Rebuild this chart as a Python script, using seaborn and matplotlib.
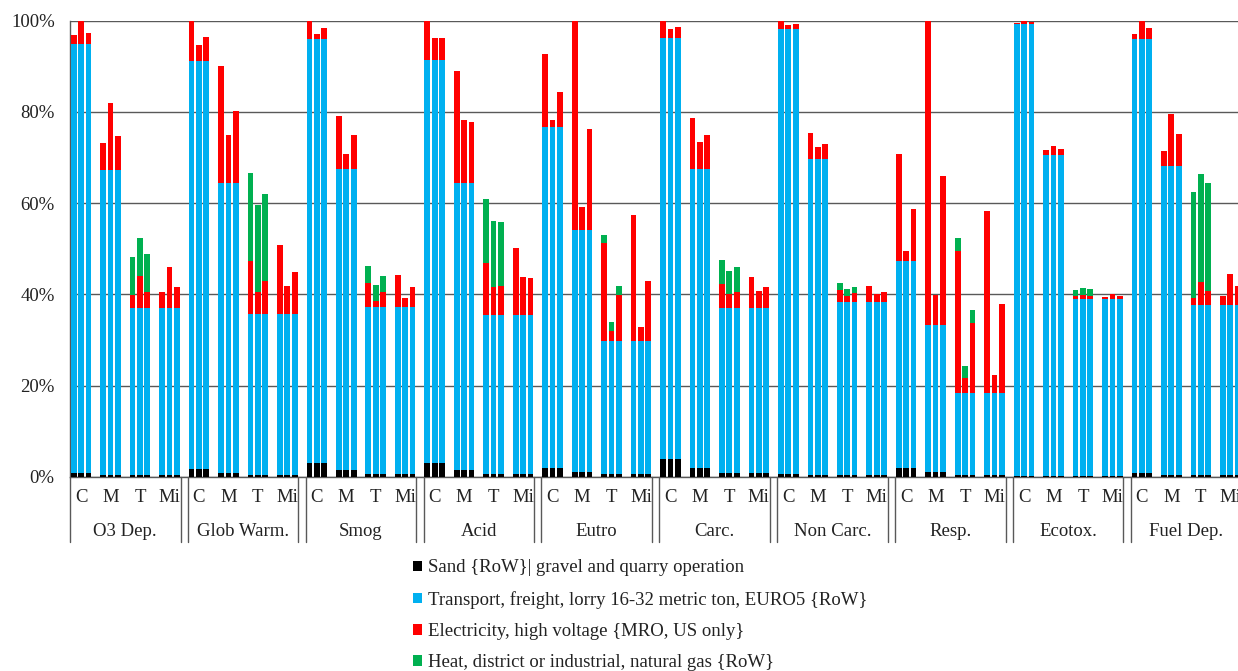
import numpy as np
import pandas as pd
import matplotlib
matplotlib.use("Agg")
import matplotlib.pyplot as plt
from matplotlib.patches import Patch
from matplotlib.ticker import FuncFormatter
import seaborn as sns

# Impact categories and the four scenarios in each
impacts = ["O3 Dep.", "Glob Warm.", "Smog", "Acid", "Eutro",
           "Carc.", "Non Carc.", "Resp.", "Ecotox.", "Fuel Dep."]
scenarios = ["C", "M", "T", "Mi"]

# Share (%) from sand/gravel, one value per scenario (same for its three bars)
sand = [
    [0.9, 0.45, 0.3, 0.3], [1.6, 0.9, 0.4, 0.4], [2.9, 1.5, 0.7, 0.7],
    [2.9, 1.5, 0.7, 0.7], [1.8, 1.0, 0.5, 0.5], [3.8, 1.8, 0.9, 0.9],
    [0.7, 0.4, 0.3, 0.3], [1.8, 1.0, 0.4, 0.3], [0.1, 0.1, 0.1, 0.1],
    [0.9, 0.4, 0.3, 0.3],
]

# Share (%) from lorry transport, one value per scenario
transport = [
    [94.0, 66.9, 36.8, 36.8], [89.5, 63.6, 35.3, 35.3], [93.0, 66.0, 36.6, 36.6],
    [88.5, 63.0, 34.8, 34.8], [74.9, 53.2, 29.3, 29.3], [92.3, 65.7, 36.2, 36.2],
    [97.4, 69.2, 38.1, 38.1], [45.6, 32.3, 17.9, 18.0], [99.2, 70.4, 38.8, 38.8],
    [95.0, 67.7, 37.3, 37.3],
]

# Share (%) from electricity, three bars per scenario (C, M, T, Mi)
electricity = [
    [2.0, 5.1, 2.5, 5.8, 14.6, 7.3, 2.7, 6.9, 3.5, 3.5, 8.8, 4.4],
    [8.9, 3.6, 5.4, 25.6, 10.5, 15.8, 11.7, 4.8, 7.2, 15.1, 6.1, 9.3],
    [4.1, 1.1, 2.5, 11.6, 3.3, 7.4, 5.1, 1.3, 3.3, 6.9, 1.8, 4.4],
    [8.6, 4.8, 4.7, 24.4, 13.7, 13.3, 11.4, 6.2, 6.3, 14.7, 8.2, 8.1],
    [16.0, 1.6, 7.7, 45.8, 5.0, 22.0, 21.4, 2.2, 10.0, 27.6, 3.1, 13.2],
    [3.9, 2.1, 2.6, 11.1, 6.0, 7.5, 5.2, 2.9, 3.5, 6.6, 3.7, 4.6],
    [1.9, 0.9, 1.2, 5.8, 2.6, 3.3, 2.5, 1.2, 1.8, 3.4, 1.7, 2.0],
    [23.4, 2.2, 11.4, 66.7, 6.5, 32.7, 31.3, 3.3, 15.3, 40.0, 4.1, 19.6],
    [0.3, 0.7, 0.4, 1.1, 2.0, 1.4, 0.7, 0.9, 0.7, 0.6, 1.2, 0.7],
    [1.2, 4.1, 2.5, 3.4, 11.4, 7.0, 1.5, 5.2, 3.1, 2.0, 6.8, 4.2],
]

# Share (%) from natural-gas heat, only in the T scenario (three bars)
heat_t = [
    [8.4, 8.3, 8.2], [19.3, 19.1, 19.2], [3.7, 3.4, 3.4], [14.1, 14.3, 14.0],
    [1.8, 1.9, 2.0], [5.2, 5.2, 5.3], [1.6, 1.5, 1.3], [2.7, 2.7, 2.9],
    [1.3, 1.6, 1.6], [23.4, 23.6, 23.6],
]

legend_labels = [
    "Sand {RoW}| gravel and quarry operation",
    "Transport, freight, lorry 16-32 metric ton, EURO5 {RoW}",
    "Electricity, high voltage {MRO, US only}",
    "Heat, district or industrial, natural gas {RoW}",
]
colors = ["#000000", "#00B0F0", "#FF0000", "#00B050"]

# Long table: one row per bar, placed on a slot grid (16 slots per impact)
rows = []
for i, imp in enumerate(impacts):
    for j, sc in enumerate(scenarios):
        for k in range(3):
            rows.append(dict(
                slot=16 * i + 4 * j + k,
                impact=imp, scenario=sc,
                sand=sand[i][j],
                transport=transport[i][j],
                electricity=electricity[i][3 * j + k],
                heat=heat_t[i][k] if sc == "T" else 0.0,
            ))
df = pd.DataFrame(rows)
df["top_sand"] = df["sand"]
df["top_transport"] = df["top_sand"] + df["transport"]
df["top_electricity"] = df["top_transport"] + df["electricity"]
df["top_heat"] = df["top_electricity"] + df["heat"]

sns.set_theme(style="white")
plt.rcParams["font.family"] = ["Liberation Serif", "DejaVu Serif"]

FS = 13.5
TXT = "#222222"
LINE = "#595959"

W, H = 1238, 671
fig = plt.figure(figsize=(W / 100, H / 100), dpi=100)
pitch = 7.367
ax = fig.add_axes([70 / W, (H - 476.7) / H, 160 * pitch / W, 456 / H])

# Overlapping cumulative bars give the stacked look (tallest layer first)
for col, c in zip(["top_heat", "top_electricity", "top_transport", "top_sand"],
                  colors[::-1]):
    sns.barplot(data=df, x="slot", y=col, native_scale=True, color=c,
                saturation=1, width=0.78, errorbar=None, linewidth=0, ax=ax,
                zorder=3)

ax.set_xlim(-0.5, 159.5)
ax.set_ylim(0, 100)
ax.set_xlabel("")
ax.set_ylabel("")
ax.set_xticks([])
ax.set_yticks(np.arange(0, 101, 20))
ax.yaxis.set_major_formatter(FuncFormatter(lambda v, p: f"{v:.0f}%"))
ax.tick_params(axis="y", length=0, pad=11, labelsize=FS, labelcolor=TXT)
ax.yaxis.grid(True, color=LINE, linewidth=1)
ax.set_axisbelow(True)
for s in ["top", "right"]:
    ax.spines[s].set_visible(False)
for s in ["left", "bottom"]:
    ax.spines[s].set_color(LINE)
    ax.spines[s].set_linewidth(1)

# Two-level category axis: scenario labels, impact labels and group dividers
xt = ax.get_xaxis_transform()
for i, imp in enumerate(impacts):
    for j, sc in enumerate(scenarios):
        ax.text(16 * i + 4 * j + 1, -0.045, sc, transform=xt, ha="center",
                va="center", fontsize=FS, color=TXT)
    ax.text(16 * i + 7, -0.121, imp, transform=xt, ha="center", va="center",
            fontsize=FS, color=TXT)
    for xd in (16 * i - 0.5, 16 * i + 14.5):
        ax.plot([xd, xd], [0, -0.1425], transform=xt, color=LINE,
                linewidth=1, clip_on=False)

handles = [Patch(facecolor=c, edgecolor="none") for c in colors]
fig.legend(handles, legend_labels, loc="upper left",
           bbox_to_anchor=(405 / W, 1 - 552 / H), frameon=False,
           fontsize=FS, handlelength=0.5, handleheight=0.5,
           handletextpad=0.3, labelspacing=0.765, borderaxespad=0,
           labelcolor=TXT)

fig.savefig("out.png", dpi=100)
